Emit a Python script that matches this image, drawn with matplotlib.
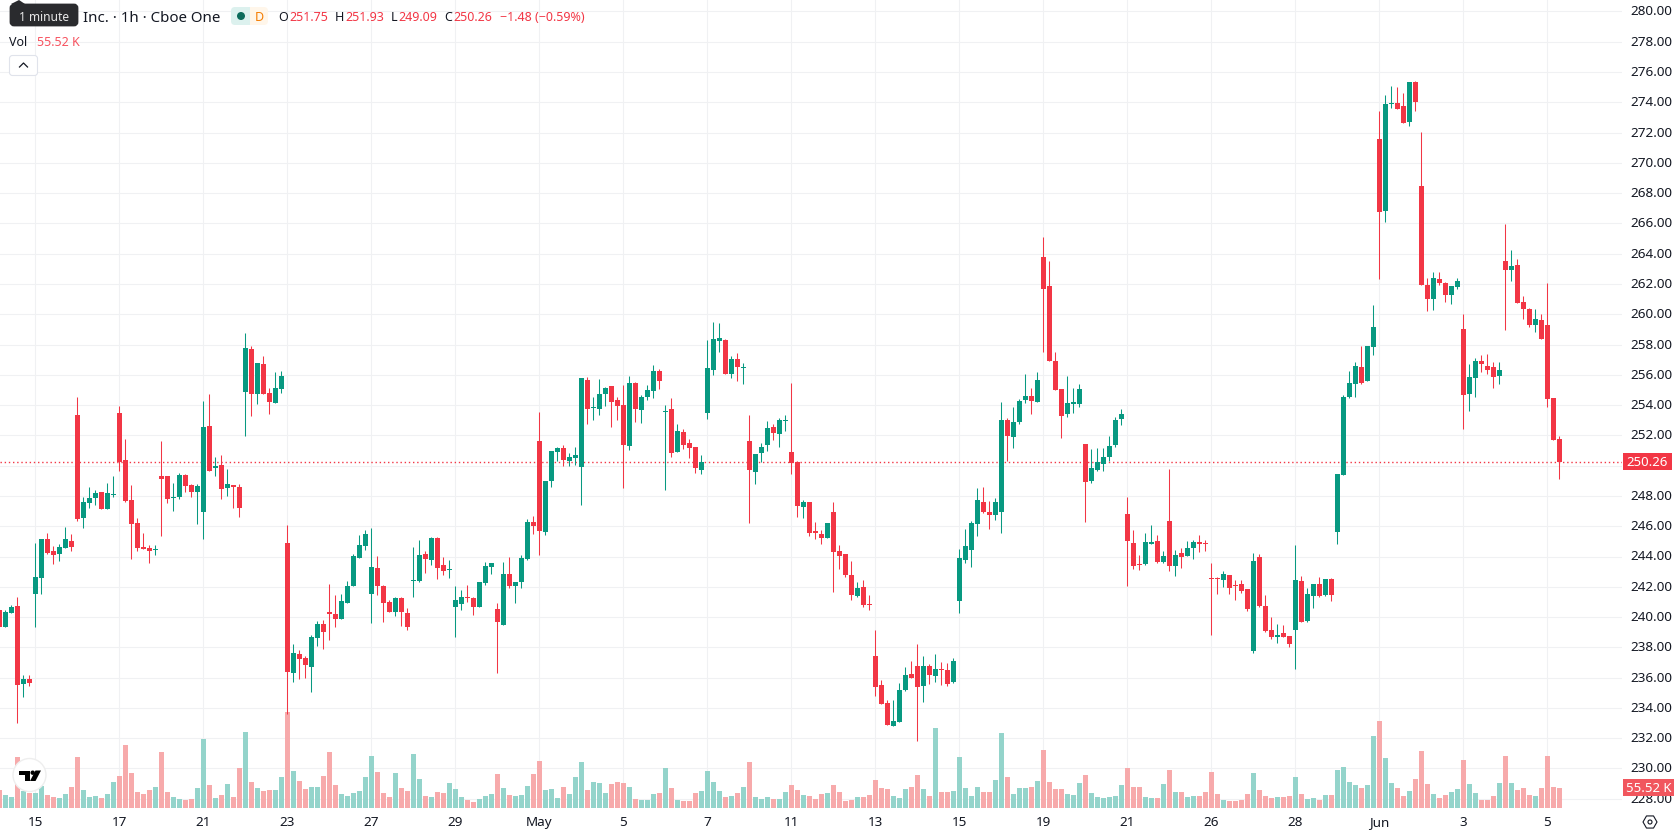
import matplotlib
matplotlib.use("Agg")
import matplotlib.pyplot as plt
from matplotlib.patches import Circle, FancyBboxPatch, Polygon, Rectangle, RegularPolygon
from matplotlib.transforms import ScaledTranslation

# Hourly OHLC prices
opens = [
    240.46, 239.34, 240.26, 240.73, 235.57, 235.90, 241.52, 242.58, 245.15, 244.36,
    244.16, 244.56, 245.02, 253.34, 246.54, 247.53, 247.86, 248.26, 247.13, 248.08,
    253.48, 250.37, 247.73, 246.21, 244.62, 244.56, 244.44, 249.31, 249.31, 247.88,
    247.93, 249.38, 248.72, 248.26, 246.94, 252.62, 249.84, 250.04, 248.52, 248.72,
    248.59, 254.86, 257.70, 254.73, 256.71, 254.80, 254.14, 255.06, 244.89, 236.30,
    237.56, 237.30, 236.71, 238.61, 239.54, 240.33, 240.20, 239.87, 240.93, 242.05,
    243.90, 244.69, 241.52, 243.24, 242.05, 240.99, 240.33, 241.26, 240.26, 242.38,
    242.38, 244.16, 243.77, 245.22, 243.44, 243.12, 240.66, 240.86, 241.32, 241.26,
    240.66, 242.25, 243.30, 240.53, 239.47, 242.84, 242.05, 242.31, 243.83, 246.28,
    251.63, 245.62, 248.98, 250.90, 251.16, 250.30, 250.50, 249.91, 255.66, 253.82,
    253.74, 254.73, 255.26, 254.33, 254.00, 251.30, 255.46, 253.67, 254.53, 254.93,
    256.25, 253.56, 253.74, 250.90, 252.22, 251.49, 251.23, 249.71, 253.48, 256.32,
    258.23, 258.30, 256.05, 257.04, 256.46, 251.63, 249.58, 250.83, 251.36, 252.55,
    252.09, 252.96, 250.90, 250.24, 247.27, 247.60, 245.68, 245.48, 245.22, 246.94,
    244.36, 244.16, 242.77, 241.39, 241.99, 240.86, 237.43, 235.51, 234.32, 232.80,
    233.07, 235.18, 236.24, 236.77, 235.45, 236.77, 236.11, 236.57, 236.50, 235.71,
    241.06, 243.77, 244.43, 246.15, 247.60, 246.94, 246.74, 246.94, 253.02, 251.89,
    252.89, 254.34, 254.60, 254.21, 263.79, 261.87, 256.92, 255.07, 253.41, 254.08,
    254.08, 251.43, 248.99, 249.71, 250.11, 250.57, 251.37, 253.08, 246.81, 244.89,
    243.50, 243.49, 244.82, 245.00, 243.61, 246.34, 243.36, 244.21, 244.03, 244.54,
    244.95, 244.90, 242.58, 242.58, 242.43, 242.77, 242.12, 242.18, 241.84, 237.75,
    243.95, 240.71, 239.14, 238.68, 238.94, 238.74, 239.14, 242.36, 239.73, 241.38,
    242.18, 241.43, 242.51, 245.59, 249.37, 254.51, 255.39, 256.52, 255.59, 257.83,
    271.58, 266.83, 273.90, 273.96, 273.76, 272.70, 275.34, 268.47, 261.93, 261.01,
    262.33, 262.07, 261.27, 261.80, 259.03, 254.74, 255.79, 256.91, 256.58, 256.52,
    255.92, 263.52, 262.93, 263.26, 260.81, 260.35, 259.29, 259.62, 259.29, 254.47,
    251.75,
]
highs = [
    240.50, 240.46, 240.79, 241.32, 236.17, 236.17, 244.89, 245.15, 245.55, 244.69,
    244.82, 245.94, 245.48, 254.53, 247.93, 248.59, 248.39, 248.26, 248.85, 249.31,
    253.94, 251.76, 248.72, 246.54, 245.55, 244.76, 244.76, 251.63, 249.31, 248.85,
    249.51, 249.45, 248.79, 248.79, 254.27, 254.73, 250.57, 250.70, 249.78, 248.72,
    248.79, 258.76, 257.90, 256.78, 257.24, 255.13, 256.18, 256.25, 246.08, 238.22,
    237.83, 237.43, 238.82, 239.74, 239.80, 242.18, 241.45, 241.52, 242.38, 244.16,
    245.42, 245.75, 245.88, 244.03, 242.11, 241.12, 241.32, 241.32, 240.59, 244.62,
    245.09, 244.36, 245.28, 245.28, 243.96, 243.77, 242.05, 241.78, 242.11, 241.32,
    242.31, 243.63, 243.57, 240.93, 243.63, 243.96, 242.31, 244.10, 246.47, 246.67,
    253.54, 248.98, 250.97, 251.23, 251.36, 250.83, 251.23, 255.79, 255.85, 254.53,
    255.72, 255.19, 255.26, 254.53, 255.33, 255.92, 255.52, 254.66, 255.33, 256.65,
    256.38, 254.00, 254.47, 252.75, 252.42, 251.76, 251.23, 250.70, 258.30, 259.49,
    259.42, 258.36, 257.24, 257.44, 256.78, 253.34, 250.77, 251.49, 252.95, 252.75,
    253.15, 253.34, 255.46, 250.30, 247.73, 247.60, 246.28, 245.75, 246.21, 247.60,
    244.76, 244.16, 243.70, 242.31, 242.45, 241.46, 239.15, 235.84, 234.52, 234.52,
    235.65, 236.70, 237.10, 238.22, 237.43, 236.90, 237.56, 237.03, 236.97, 237.30,
    244.50, 245.82, 246.35, 248.53, 248.59, 247.67, 247.87, 254.21, 253.15, 253.88,
    254.41, 256.06, 255.13, 256.19, 265.11, 263.52, 257.51, 255.07, 255.93, 255.13,
    255.40, 251.43, 251.10, 251.17, 251.17, 251.96, 253.22, 253.74, 247.93, 245.75,
    244.10, 245.54, 246.06, 245.41, 244.36, 249.76, 244.41, 244.54, 245.00, 245.08,
    245.41, 245.08, 243.56, 242.64, 243.02, 242.77, 242.43, 242.43, 241.84, 244.20,
    244.15, 241.43, 239.99, 239.53, 239.45, 238.74, 244.75, 242.69, 241.89, 242.18,
    242.64, 242.51, 242.56, 249.45, 254.67, 256.24, 256.83, 257.91, 257.91, 260.61,
    273.43, 274.49, 275.08, 275.01, 274.62, 275.34, 275.41, 272.04, 262.40, 262.79,
    262.79, 262.13, 261.87, 262.40, 260.02, 256.72, 257.11, 257.31, 257.38, 256.85,
    256.85, 265.96, 264.25, 263.65, 261.21, 260.42, 260.35, 260.02, 262.07, 254.47,
    251.93,
]
lows = [
    239.30, 239.34, 240.26, 232.99, 234.72, 235.44, 239.34, 241.52, 244.16, 243.50,
    243.70, 244.56, 244.36, 246.34, 245.88, 247.20, 247.40, 247.13, 247.13, 247.93,
    249.65, 247.60, 243.83, 244.36, 244.49, 243.57, 244.10, 245.35, 247.53, 247.00,
    247.80, 248.26, 247.93, 246.14, 245.15, 249.65, 249.31, 247.80, 247.99, 247.20,
    246.61, 251.96, 253.28, 254.07, 254.73, 253.41, 254.14, 254.80, 233.59, 235.71,
    235.91, 235.98, 235.05, 238.08, 237.89, 238.48, 239.34, 239.87, 240.93, 242.05,
    243.90, 244.43, 239.60, 241.45, 239.67, 240.33, 240.07, 239.41, 239.14, 241.32,
    242.31, 242.91, 243.44, 242.51, 242.78, 242.58, 238.68, 240.46, 240.99, 240.13,
    240.66, 242.11, 242.84, 236.30, 239.47, 241.92, 240.93, 241.92, 243.77, 245.48,
    244.10, 245.42, 248.59, 250.30, 249.98, 249.98, 250.04, 247.40, 252.75, 253.01,
    253.34, 253.94, 252.55, 253.01, 248.52, 251.03, 252.88, 252.82, 254.33, 254.47,
    255.06, 248.39, 250.57, 250.90, 251.10, 250.50, 249.51, 249.45, 253.08, 255.99,
    257.50, 256.05, 255.79, 255.59, 255.39, 246.21, 248.79, 250.24, 250.97, 251.69,
    251.23, 252.29, 249.45, 246.60, 246.54, 245.35, 245.15, 244.82, 245.22, 241.65,
    243.17, 242.64, 241.12, 241.32, 240.66, 240.47, 234.79, 234.26, 232.87, 232.80,
    233.07, 235.12, 235.98, 231.83, 234.39, 235.58, 235.71, 235.51, 235.45, 235.65,
    240.27, 243.57, 243.31, 245.36, 246.87, 245.82, 246.41, 245.55, 250.31, 251.17,
    252.75, 254.14, 253.41, 254.21, 257.51, 256.92, 255.00, 251.83, 253.22, 253.48,
    253.88, 246.28, 248.86, 249.65, 249.65, 250.31, 251.24, 252.69, 242.05, 243.18,
    243.11, 243.44, 244.82, 243.54, 243.54, 243.02, 242.69, 243.23, 244.03, 243.82,
    244.28, 244.36, 238.81, 241.51, 241.97, 241.51, 241.12, 241.58, 240.40, 237.62,
    240.66, 239.01, 238.55, 238.29, 238.68, 238.01, 236.58, 239.66, 239.66, 240.58,
    241.31, 241.38, 241.05, 244.82, 249.37, 254.46, 254.51, 255.39, 255.59, 257.29,
    262.33, 266.08, 273.63, 273.56, 272.63, 272.44, 273.43, 261.93, 260.22, 260.28,
    261.93, 260.81, 260.68, 261.67, 252.42, 253.61, 254.54, 256.19, 256.06, 255.13,
    255.40, 258.96, 262.20, 260.75, 259.69, 259.16, 258.83, 258.37, 253.88, 251.70,
    249.09,
]
closes = [
    239.34, 240.33, 240.66, 235.51, 235.90, 235.64, 242.64, 245.15, 244.23, 244.10,
    244.62, 245.15, 244.62, 246.47, 247.60, 247.86, 248.19, 247.13, 248.19, 248.12,
    250.24, 247.66, 246.14, 244.56, 244.49, 244.36, 244.50, 249.12, 247.80, 247.92,
    249.38, 248.65, 248.26, 248.65, 252.55, 249.65, 249.98, 248.46, 248.79, 248.59,
    247.20, 257.77, 254.73, 256.78, 254.73, 254.20, 255.13, 255.92, 236.37, 237.62,
    237.23, 236.84, 238.69, 239.54, 239.01, 240.20, 239.87, 241.06, 242.05, 244.03,
    244.76, 245.48, 243.30, 242.05, 240.93, 240.33, 241.26, 240.33, 239.34, 242.45,
    244.10, 243.83, 245.22, 243.24, 243.04, 243.18, 241.12, 241.32, 241.26, 240.66,
    242.31, 243.37, 243.57, 239.67, 242.84, 242.05, 242.31, 243.90, 246.28, 246.01,
    245.68, 248.98, 250.97, 251.16, 250.37, 250.57, 250.70, 255.79, 253.74, 253.88,
    254.73, 255.13, 254.20, 253.94, 251.36, 255.46, 253.74, 254.53, 254.99, 256.25,
    255.59, 253.62, 250.83, 252.29, 251.36, 251.16, 249.84, 250.24, 256.45, 258.36,
    258.43, 256.05, 257.04, 256.51, 256.52, 249.71, 250.77, 251.23, 252.49, 252.15,
    253.01, 253.02, 250.17, 247.33, 247.60, 245.55, 245.55, 245.22, 246.21, 244.29,
    244.03, 242.77, 241.45, 241.92, 240.80, 240.80, 235.38, 234.26, 232.87, 233.13,
    235.18, 236.17, 235.98, 235.38, 236.77, 236.17, 236.57, 236.50, 235.58, 237.10,
    243.90, 244.70, 246.21, 247.73, 246.94, 246.74, 247.60, 253.02, 251.96, 252.89,
    254.27, 254.60, 254.27, 255.66, 261.67, 256.92, 255.00, 253.28, 254.14, 254.21,
    255.07, 248.92, 249.85, 250.24, 250.57, 251.30, 253.02, 253.41, 245.03, 243.37,
    243.44, 244.95, 244.95, 243.61, 244.03, 243.36, 244.08, 243.95, 244.54, 244.95,
    244.82, 244.85, 242.54, 242.54, 242.82, 241.90, 242.07, 241.72, 240.53, 243.69,
    240.71, 239.07, 238.68, 238.81, 238.68, 238.22, 242.43, 239.66, 241.51, 242.18,
    241.38, 242.51, 241.43, 249.45, 254.51, 255.44, 256.57, 255.47, 257.91, 259.14,
    266.75, 273.90, 273.96, 273.56, 272.63, 275.34, 274.02, 261.93, 261.01, 262.40,
    262.07, 261.27, 261.87, 262.20, 254.67, 255.86, 256.91, 256.72, 256.32, 255.86,
    256.32, 262.93, 263.19, 260.75, 260.35, 259.29, 259.69, 258.37, 254.40, 251.70,
    250.26,
]
# Volume in thousands of shares
volumes = [
    50, 36, 31, 142, 47, 42, 42, 61, 36, 31,
    28, 39, 58, 142, 50, 31, 33, 28, 39, 72,
    89, 175, 97, 44, 39, 50, 58, 155, 44, 31,
    25, 22, 25, 56, 192, 64, 28, 36, 67, 31,
    111, 211, 72, 56, 47, 50, 50, 86, 266, 103,
    75, 53, 58, 58, 89, 155, 64, 39, 33, 42,
    47, 86, 144, 100, 42, 31, 97, 56, 47, 150,
    81, 33, 31, 44, 42, 69, 53, 31, 22, 17,
    25, 33, 39, 94, 56, 36, 33, 36, 61, 94,
    130, 50, 53, 28, 58, 39, 86, 128, 50, 72,
    69, 42, 67, 72, 69, 58, 25, 22, 22, 39,
    42, 111, 56, 22, 19, 19, 42, 47, 103, 72,
    47, 31, 33, 42, 58, 128, 31, 25, 31, 25,
    25, 44, 64, 50, 36, 33, 25, 39, 42, 64,
    44, 19, 22, 31, 31, 36, 78, 56, 53, 33,
    28, 53, 58, 92, 53, 33, 222, 44, 44, 47,
    142, 56, 33, 58, 44, 44, 78, 208, 86, 39,
    56, 56, 58, 75, 161, 72, 53, 53, 39, 36,
    69, 92, 42, 31, 28, 31, 33, 64, 111, 58,
    58, 31, 28, 28, 67, 105, 44, 44, 31, 33,
    33, 44, 100, 39, 22, 19, 19, 22, 39, 97,
    50, 33, 28, 31, 31, 33, 86, 39, 25, 28,
    22, 36, 36, 105, 114, 72, 64, 56, 64, 200,
    242, 139, 69, 56, 33, 47, 81, 158, 67, 39,
    28, 36, 44, 53, 133, 67, 42, 22, 22, 33,
    69, 144, 69, 50, 56, 36, 33, 56, 144, 58,
    55.52,
]

price_ticks = list(range(228, 281, 2))
date_bars = [6, 20, 34, 48, 62, 76, 90, 104, 118, 132, 146, 160, 174, 188, 202, 216, 230, 244, 258]
date_labels = ["15", "17", "21", "23", "27", "29", "May", "5", "7", "11", "13", "15", "19", "21", "26", "28", "Jun", "3", "5"]

last_price = 250.26
header_symbol = "Inc. · 1h · Cboe One"
ohlc_readout = [("O", "251.75"), ("H", "251.93"), ("L", "249.09"), ("C", "250.26")]
change_readout = "−1.48 (−0.59%)"
volume_readout = "55.52 K"

UP = "#089981"
DOWN = "#f23645"
UP_VOL = "#92d3ca"
DOWN_VOL = "#f7a8aa"
GRID = "#f0f1f3"
INK = "#131722"

plt.rcParams["font.family"] = ["Noto Sans", "DejaVu Sans"]

W, H = 1678, 835
PLOT_W, PLOT_H = 1622, 808
fig = plt.figure(figsize=(W / 100, H / 100), dpi=100, facecolor="white")
rect = [0, (H - PLOT_H) / H, PLOT_W / W, PLOT_H / H]

BAR_STEP = 6.0
xlim = (0.7 / BAR_STEP, (PLOT_W + 0.7) / BAR_STEP)
PX_PER_UNIT = 15.14
ylim = (274 - (PLOT_H - 102.3) / PX_PER_UNIT, 274 + 102.3 / PX_PER_UNIT)
VOL_PER_PX = 2.776

# Base layer: grid and axis labels; the 250 label sits behind the last-price tag
ax = fig.add_axes(rect, zorder=1)
ax.set_xlim(xlim)
ax.set_ylim(ylim)
ax.set_yticks(price_ticks)
ax.set_yticklabels([("" if p == 250 else f"{p:.2f}") for p in price_ticks], fontsize=9.7, color=INK)
ax.yaxis.tick_right()
ax.set_xticks(date_bars)
ax.set_xticklabels(date_labels, fontsize=9.7, color=INK)
for lab in ax.get_xticklabels():
    if lab.get_text() in ("May", "Jun"):
        lab.set_fontweight("bold")
ax.tick_params(axis="both", length=0)
ax.tick_params(axis="y", pad=5.8)
ax.tick_params(axis="x", pad=6)
ax.grid(True, color=GRID, linewidth=0.75)
ax.set_axisbelow(True)
nudge_up = ScaledTranslation(0, 1 / 100, fig.dpi_scale_trans)
for lab in ax.get_yticklabels():
    lab.set_transform(lab.get_transform() + nudge_up)
for s in ax.spines.values():
    s.set_visible(False)

bars = range(len(closes))
rising = [c >= o for o, c in zip(opens, closes)]

# Volume histogram along the bottom edge
ax_vol = fig.add_axes(rect, zorder=2, sharex=ax)
ax_vol.patch.set_alpha(0)
ax_vol.set_ylim(0, PLOT_H * VOL_PER_PX)
ax_vol.axis("off")
ax_vol.bar(bars, volumes, width=5 / BAR_STEP, linewidth=0,
           color=[UP_VOL if r else DOWN_VOL for r in rising], alpha=0.98)

# Candlesticks
ax_c = fig.add_axes(rect, zorder=3, sharex=ax)
ax_c.patch.set_alpha(0)
ax_c.set_ylim(ylim)
ax_c.axis("off")
colors = [UP if r else DOWN for r in rising]
ax_c.axhline(last_price, color=DOWN, linewidth=1.0, linestyle=(0, (1.0, 2.0)), zorder=1)
ax_c.vlines(list(bars), lows, highs, colors=colors, linewidth=0.75, zorder=2)
ax_c.bar(bars, [abs(c - o) for o, c in zip(opens, closes)],
         bottom=[min(o, c) for o, c in zip(opens, closes)],
         width=5 / BAR_STEP, color=colors, linewidth=0, zorder=3)

# Interface overlay laid out in pixels
ui = fig.add_axes([0, 0, 1, 1], zorder=10)
ui.patch.set_alpha(0)
ui.set_xlim(0, W)
ui.set_ylim(H, 0)
ui.axis("off")


def label(x, y, s, size=12.5, color=INK, ha="left", **kw):
    ui.text(x, y, s, fontsize=size * 0.72, color=color, ha=ha, va="center_baseline", **kw)


# Tooltip and symbol line
ui.add_patch(FancyBboxPatch((11, 5), 66, 20, boxstyle="round,pad=0,rounding_size=3",
                            fc="#2a2b2e", ec="#2a2b2e", lw=2))
ui.add_patch(Polygon([(11, 4), (19, 0), (25, 4)], fc="#2a2b2e", ec="none"))
label(44, 16, "1 minute", size=12, color="#e8e8e8", ha="center")
label(83, 16.5, header_symbol, size=15)

# Market status pill
ui.add_patch(FancyBboxPatch((231, 7), 19, 18, boxstyle="round,pad=0,rounding_size=4", fc="#dcf1ee", ec="none"))
ui.add_patch(Rectangle((244, 7), 6, 18, fc="#dcf1ee", ec="none"))
ui.add_patch(FancyBboxPatch((250, 7), 18, 18, boxstyle="round,pad=0,rounding_size=4", fc="#fff6ea", ec="none"))
ui.add_patch(Rectangle((250, 7), 6, 18, fc="#fff6ea", ec="none"))
ui.add_patch(Circle((241, 16), 4, fc="#0b6b5b", ec="none"))
label(259.5, 16, "D", size=12.5, color="#f57c00", ha="center")

# OHLC readout
x_letter = [278, 335, 391, 444.5]
x_value = [289, 345, 398.5, 453.5]
for (letter, value), xl, xv in zip(ohlc_readout, x_letter, x_value):
    label(xl, 16, letter)
    label(xv, 16, value, color=DOWN)
label(500, 16, change_readout, color=DOWN)

label(9, 41, "Vol")
label(37, 41, volume_readout, color="#f7525f")

# Collapse button
ui.add_patch(FancyBboxPatch((9.5, 55.5), 28, 20, boxstyle="round,pad=0,rounding_size=3",
                            fc="white", ec="#e0e3eb", lw=0.8))
ui.plot([19.5, 23.5, 27.5], [67, 63, 67], color=INK, lw=0.9)

# Logo badge
ui.add_patch(Circle((29.5, 775), 16.5, fc="white", ec="#eeeeee", lw=1.0))
ui.add_patch(Polygon([(19, 770.5), (29.5, 770.5), (29.5, 781), (24.5, 781), (24.5, 775), (19, 775)], fc="black", ec="none"))
ui.add_patch(Circle((32.7, 772.7), 2.2, fc="black", ec="none"))
ui.add_patch(Polygon([(35.5, 770.5), (41, 770.5), (35.5, 781), (30, 781)], fc="black", ec="none"))

# Last price and last volume tags
ui.add_patch(Rectangle((1623, 453), 49, 17, fc=DOWN, ec="none"))
label(1647.5, 461.5, f"{last_price:.2f}", size=13.2, color="white", ha="center")
ui.add_patch(Rectangle((1623, 779), 51, 17, fc="#f1565e", ec="none"))
label(1648.5, 787.5, volume_readout, size=13.2, color="white", ha="center")

# Settings gear
ui.add_patch(RegularPolygon((1650, 822), 6, radius=7, orientation=0.5236, fc="white", ec=INK, lw=0.8))
ui.add_patch(Circle((1650, 822), 2, fc="white", ec=INK, lw=0.8))

fig.savefig("out.png", dpi=100, facecolor="white")
